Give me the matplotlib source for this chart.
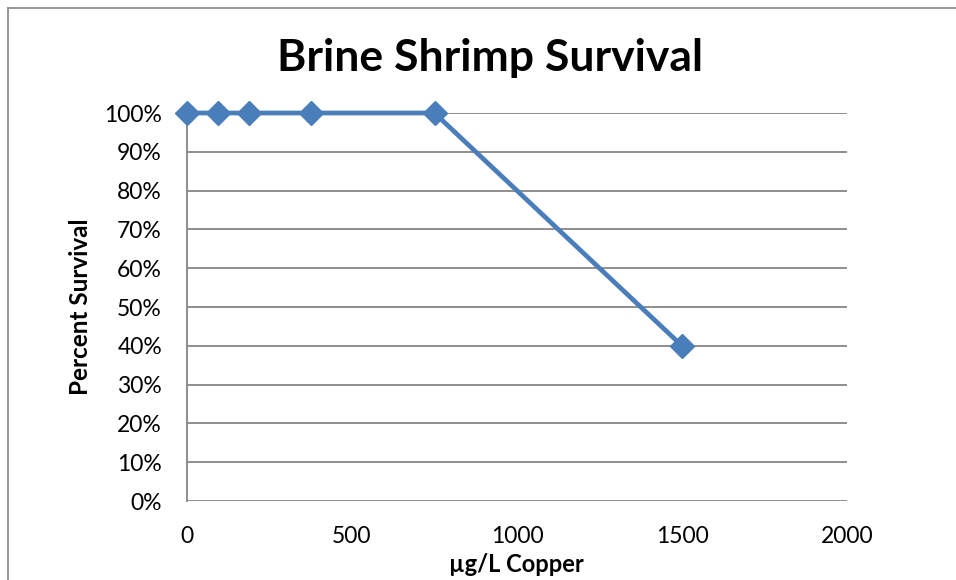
import matplotlib
matplotlib.use("Agg")
import matplotlib.pyplot as plt
from matplotlib.lines import Line2D
from matplotlib.ticker import PercentFormatter

plt.rcParams['font.family'] = ['Lato', 'DejaVu Sans']

# copper concentration (ug/L) and survival fraction
copper = [0, 93.75, 187.5, 375, 750, 1500]
survival = [1.0, 1.0, 1.0, 1.0, 1.0, 0.40]

xticks = [0, 500, 1000, 1500, 2000]
yticks = [0, 0.1, 0.2, 0.3, 0.4, 0.5, 0.6, 0.7, 0.8, 0.9, 1.0]

line_col = '#4a7ebb'
grid_col = '#868686'

fig = plt.figure(figsize=(9.56, 5.8), dpi=100)
ax = fig.add_axes([187/956, 79/580, 660/956, 388/580])

ax.plot(copper, survival, color=line_col, lw=3.4, marker='D', ms=12,
        mec=line_col, mfc=line_col, clip_on=False, zorder=5)

ax.set_xlim(0, 2000)
ax.set_ylim(0, 1.0)
ax.set_xticks(xticks)
ax.set_yticks(yticks)
ax.yaxis.set_major_formatter(PercentFormatter(1.0, decimals=0))
ax.tick_params(axis='both', length=0, labelsize=16.5, colors='black')
ax.tick_params(axis='x', pad=18)
ax.tick_params(axis='y', pad=18)
ax.grid(axis='y', color=grid_col, lw=1.3)
ax.set_axisbelow(True)
for side in ['top', 'right', 'bottom']:
    ax.spines[side].set_visible(False)
ax.spines['left'].set_color(grid_col)
ax.spines['left'].set_linewidth(1.3)

fig.text(490/956, 1 - 58/580, 'Brine Shrimp Survival', ha='center', va='center',
         fontsize=32, fontweight='bold')
fig.text(516/956, 1 - 564/580, 'µg/L Copper', ha='center', va='center',
         fontsize=17, fontweight='bold')
fig.text(80/956, 1 - 307/580, 'Percent Survival', ha='center', va='center',
         fontsize=17.5, fontweight='bold', rotation=90)

# chart frame (only top and left edges show)
fig.add_artist(Line2D([8/956, 1], [1 - 8/580, 1 - 8/580], color='#868686', lw=1.2))
fig.add_artist(Line2D([8/956, 8/956], [0, 1 - 8/580], color='#868686', lw=1.2))

fig.savefig('out.png', dpi=100)
